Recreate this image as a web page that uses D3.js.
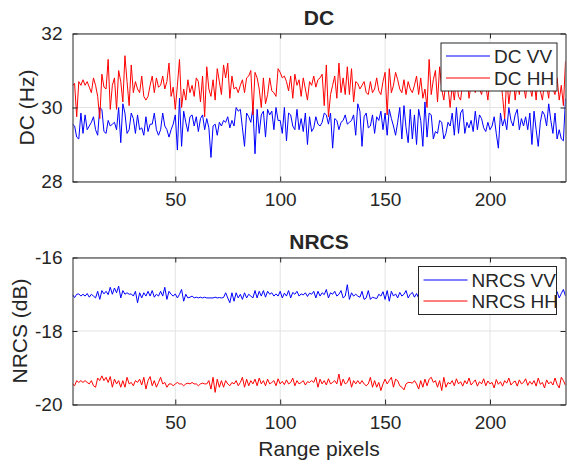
<!DOCTYPE html>
<html>
<head>
<meta charset="utf-8">
<script src="https://cdn.jsdelivr.net/npm/d3@7"></script>
<style>
  body { margin: 0; background: #fff; }
  text { font-family: "Liberation Sans", Arial, Helvetica, sans-serif; fill: #262626; }
</style>
</head>
<body>
<div id="chart"></div>
<script>
// values, range pixel 1..236

var dcVV = [
  29.55, 29.5, 29.2, 29.15, 29.85, 29.3, 29.8, 29.4, 29.5, 29.6,
  29.75, 29.4, 29.25, 30.0, 29.95, 29.35, 29.3, 29.65, 29.5, 29.55,
  29.6, 29.4, 30.0, 29.05, 30.1, 29.85, 29.3, 29.4, 29.85, 29.7,
  29.3, 29.8, 29.4, 29.45, 29.25, 29.75, 29.35, 29.55, 29.55, 29.85,
  29.4, 29.25, 29.4, 29.85, 29.5, 29.4, 29.2, 29.4, 29.55, 29.8,
  28.85, 30.25, 28.95, 29.9, 29.6, 29.35, 29.75, 29.8, 29.5,
  29.75, 29.35, 29.7, 29.8, 29.4, 29.7, 29.45, 28.65, 29.5, 29.55,
  29.25, 29.6, 29.5, 29.65, 29.6, 29.75, 29.45, 29.65, 29.5, 30.0,
  29.9, 29.95, 29.45, 28.95, 29.85, 29.75, 29.6, 30.0, 28.75, 29.95,
  29.3, 29.8, 29.9, 29.2, 29.95, 29.8, 29.9, 29.4, 30.0, 29.65,
  29.65, 29.3, 30.0, 29.1, 29.85, 29.8, 29.5, 29.4, 29.95, 29.4,
  29.7, 29.35, 29.85, 29.0, 29.75, 29.35, 29.45, 29.75,
  29.55, 29.5, 29.6, 29.85, 29.8, 29.55, 29.85, 28.9, 29.7, 29.65,
  29.4, 29.6, 29.65, 29.8, 29.55, 29.6, 29.65, 29.8, 29.25, 30.1,
  29.9, 28.95, 29.75, 29.85, 29.45, 29.5, 29.8, 29.3, 29.75, 29.65,
  29.9, 29.4, 29.85, 29.25, 29.95, 29.7, 29.5, 29.25, 29.6, 30.0,
  29.15, 30.05, 29.45, 29.05, 29.95, 29.15, 29.8, 29.0, 29.95, 29.65,
  28.95, 30.15, 29.2, 29.85, 29.8, 29.15, 29.35, 29.3,
  29.65, 29.6, 29.15, 29.3, 29.6, 29.5, 29.85, 29.25, 30.0, 29.3,
  29.85, 29.95, 29.3, 29.6, 29.45, 29.65, 29.35, 29.9, 29.4, 29.8,
  29.7, 29.45, 29.35, 29.6, 29.4, 29.5, 29.75, 29.3, 28.9, 29.85,
  29.5, 29.7, 29.4, 30.0, 29.65, 29.5, 29.8, 29.95, 29.4, 29.7,
  29.5, 29.75, 29.4, 29.85, 29.0, 29.9, 29.4, 28.95, 29.6, 29.9,
  29.8, 29.5, 30.1, 29.65, 29.3, 29.85, 29.15, 29.4, 29.15, 29.1, 30.25
];

var dcHH = [
  30.6, 30.65, 29.75, 30.7, 30.6, 30.75, 30.6, 30.7, 30.55, 30.4,
  30.8, 30.6, 30.3, 29.7, 30.9, 30.55, 30.5, 31.3, 29.95, 30.6,
  30.8, 29.95, 31.0, 30.7, 30.15, 31.4, 30.7, 30.05, 31.15, 30.4,
  30.7, 30.5, 30.4, 30.85, 30.3, 30.2, 30.3, 30.6, 30.85, 30.4,
  30.8, 30.55, 30.6, 30.85, 30.5, 30.7, 31.2, 30.3, 30.55, 29.95,
  30.6, 31.3, 30.0, 30.5, 30.2, 30.75, 30.4, 30.6, 30.3,
  30.8, 30.7, 30.15, 30.85, 29.75, 31.1, 30.5, 30.3, 30.75, 30.2,
  31.05, 30.7, 30.35, 31.15, 30.8, 31.2, 30.25, 30.85, 30.5, 30.55,
  30.4, 30.6, 30.75, 30.4, 30.8, 30.85, 31.0, 29.8, 30.95, 30.8,
  30.5, 30.0, 30.8, 30.1, 30.35, 30.8, 30.45, 30.4, 30.3, 31.05,
  30.95, 30.8, 30.85, 30.7, 30.45, 30.85, 30.25, 30.9, 30.6, 30.75,
  30.3, 30.8, 30.5, 30.2, 30.7, 30.6, 30.85, 30.55,
  30.75, 30.8, 30.9, 30.05, 31.15, 29.75, 30.35, 30.6, 30.85, 30.25,
  31.2, 30.4, 30.8, 30.35, 31.1, 30.35, 31.05, 30.15, 30.7, 30.65,
  30.5, 30.6, 30.7, 30.4, 30.35, 30.7, 30.4, 30.5, 30.8, 30.45,
  30.35, 30.7, 30.95, 29.8, 31.05, 30.4, 30.6, 30.95, 30.75, 30.5,
  30.4, 30.75, 30.35, 30.7, 30.5, 30.4, 30.6, 30.85, 30.35, 30.8,
  30.25, 30.5, 30.0, 31.3, 30.35, 30.75, 31.0, 30.15,
  31.1, 30.5, 30.2, 30.7, 30.55, 30.0, 30.6, 30.2, 30.8, 30.3,
  30.2, 30.7, 30.55, 30.9, 30.25, 30.6, 30.7, 30.4, 30.85, 30.5,
  30.35, 30.7, 30.6, 30.2, 30.8, 30.55, 30.45, 30.9, 30.6, 30.85,
  30.3, 29.7, 30.8, 30.1, 30.6, 30.9, 30.2, 30.7, 30.35, 31.0,
  30.6, 30.25, 30.85, 30.55, 30.3, 30.8, 30.2, 30.95, 30.45, 30.2,
  30.7, 30.6, 30.25, 31.0, 30.5, 30.35, 30.8, 30.2, 30.6, 30.05, 31.25
];

var nrcsVV = [
  -17.01, -17.09, -17.0, -16.99, -17.05, -17.0, -17.05, -16.98, -17.08, -17.0,
  -17.05, -17.1, -16.92, -17.14, -16.9, -16.99, -16.92, -17.01, -16.81, -17.0,
  -16.83, -16.96, -16.78, -17.1, -16.9, -17.0, -16.96, -17.0, -16.99, -17.05,
  -16.92, -17.23, -16.96, -17.1, -16.96, -17.05, -16.92, -17.05, -16.9, -17.08,
  -17.0, -17.05, -16.92, -17.05, -16.81, -17.14, -16.92, -17.0, -17.05, -16.99,
  -17.1, -17.0, -16.87, -17.19, -17.0, -17.1, -17.08, -17.05, -17.1, -17.08,
  -17.1, -17.08, -17.1, -17.08, -17.1, -17.1, -17.1, -17.1, -17.08, -17.1,
  -17.09, -17.1, -17.09, -16.96, -17.1, -17.23, -16.96, -17.19, -16.96, -17.1,
  -17.0, -17.14, -16.96, -17.1, -17.0, -17.05, -17.1, -16.9, -17.1, -16.92,
  -17.05, -16.9, -17.08, -16.92, -17.0, -16.96, -17.05, -16.99, -17.05, -16.92,
  -17.1, -16.97, -17.05, -16.9, -17.1, -16.95, -17.0, -16.92, -17.05, -16.99,
  -17.02, -16.96, -17.06, -16.97, -17.0, -16.92, -17.1, -16.92, -17.05, -16.96,
  -17.01, -16.87, -17.1, -16.96, -17.0, -16.92, -17.05, -17.0, -16.9, -17.1,
  -17.05, -16.74, -17.14, -16.96, -17.05, -17.0, -17.05, -17.08, -16.92, -17.14,
  -17.1, -16.9, -17.14, -17.08, -17.1, -17.12, -17.0, -17.05, -16.93, -17.14,
  -16.9, -17.19, -16.92, -17.05, -16.99, -17.1, -16.95, -17.05, -17.0, -16.9,
  -17.1, -17.0, -16.95, -17.08, -16.98, -17.1, -17.0, -16.9, -17.05, -17.0,
  -17.08, -16.95, -17.02, -17.1, -16.92, -17.05, -17.0, -17.1, -16.96, -17.04,
  -17.0, -16.9, -17.08, -17.0, -17.06, -16.94, -17.1, -17.0, -16.96, -17.05,
  -17.02, -16.92, -17.1, -17.0, -16.95, -17.06, -17.0, -16.9, -17.08, -17.02,
  -16.96, -17.05, -17.0, -16.92, -17.1, -17.0, -16.97, -17.05, -16.93, -17.08,
  -17.0, -16.95, -17.06, -17.02, -16.9, -17.1, -17.0, -16.96, -17.05, -16.99,
  -17.08, -16.94, -17.02, -17.1, -16.96, -17.04, -16.92, -17.06, -17.0, -16.98,
  -17.05, -16.93, -17.1, -16.98, -16.87, -17.05
];

var nrcsHH = [
  -19.44, -19.49, -19.35, -19.4, -19.35, -19.4, -19.35, -19.4, -19.44, -19.35,
  -19.49, -19.53, -19.28, -19.35, -19.22, -19.35, -19.26, -19.4, -19.24, -19.53,
  -19.31, -19.44, -19.35, -19.53, -19.35, -19.53, -19.26, -19.44, -19.4, -19.49,
  -19.35, -19.4, -19.31, -19.47, -19.26, -19.58, -19.35, -19.24, -19.49, -19.35,
  -19.53, -19.4, -19.26, -19.44, -19.4, -19.53, -19.44, -19.44, -19.49, -19.44,
  -19.4, -19.44, -19.44, -19.49, -19.44, -19.42, -19.44, -19.4, -19.44, -19.44,
  -19.49, -19.44, -19.42, -19.44, -19.44, -19.35, -19.58, -19.26, -19.67, -19.31,
  -19.53, -19.35, -19.53, -19.35, -19.44, -19.49, -19.4, -19.44, -19.35, -19.49,
  -19.4, -19.26, -19.53, -19.31, -19.49, -19.35, -19.44, -19.31, -19.49, -19.28,
  -19.44, -19.35, -19.49, -19.31, -19.44, -19.4, -19.35, -19.49, -19.3, -19.44,
  -19.37, -19.46, -19.33, -19.44, -19.4, -19.28, -19.49, -19.35, -19.44, -19.4,
  -19.35, -19.47, -19.38, -19.4, -19.35, -19.4, -19.26, -19.53, -19.31, -19.44,
  -19.35, -19.47, -19.3, -19.44, -19.4, -19.35, -19.44, -19.17, -19.49, -19.31,
  -19.44, -19.4, -19.26, -19.53, -19.35, -19.44, -19.35, -19.44, -19.35, -19.44,
  -19.49, -19.44, -19.26, -19.53, -19.35, -19.53, -19.4, -19.62, -19.44, -19.31,
  -19.44, -19.35, -19.26, -19.53, -19.31, -19.35, -19.49, -19.53, -19.6, -19.44,
  -19.4, -19.4, -19.42, -19.35, -19.44, -19.58, -19.35, -19.53, -19.31, -19.49,
  -19.31, -19.26, -19.4, -19.35, -19.53, -19.35, -19.62, -19.26, -19.53, -19.4,
  -19.44, -19.35, -19.49, -19.3, -19.44, -19.38, -19.5, -19.35, -19.44, -19.28,
  -19.47, -19.4, -19.33, -19.5, -19.38, -19.44, -19.3, -19.49, -19.36, -19.44,
  -19.4, -19.55, -19.32, -19.45, -19.38, -19.5, -19.35, -19.42, -19.28, -19.47,
  -19.4, -19.36, -19.5, -19.33, -19.44, -19.4, -19.3, -19.48, -19.37, -19.45,
  -19.35, -19.5, -19.28, -19.45, -19.4, -19.55, -19.33, -19.44, -19.38, -19.47,
  -19.28, -19.45, -19.55, -19.26, -19.35, -19.48
];

var xTicks = [50, 100, 150, 200];
var dcTicks = [28, 30, 32];
var nrcsTicks = [-20, -18, -16];
var dcNames = ["DC VV", "DC HH"];
var nrcsNames = ["NRCS VV", "NRCS HH"];

var W = 567, H = 464;
var left = 72.5, right = 565.5;
var axisCol = "#262626";
var plain = function(d) { return String(d); }; // hyphen minus like the original

var svg = d3.select("#chart").append("svg")
  .attr("width", W).attr("height", H);
svg.append("rect").attr("width", W).attr("height", H).attr("fill", "#fff");

var x = d3.scaleLinear().domain([1, dcVV.length]).range([left, right]);

function panel(p) {
  var y = d3.scaleLinear().domain(d3.extent(p.ticks)).range([p.bottom, p.top]);
  var g = svg.append("g");
  var id = "clip" + Math.round(p.top);

  g.append("clipPath").attr("id", id)
    .append("rect").attr("x", left).attr("y", p.top)
    .attr("width", right - left).attr("height", p.bottom - p.top);

  // grid
  g.selectAll(".gx").data(xTicks).enter().append("line")
    .attr("x1", d => x(d)).attr("x2", d => x(d))
    .attr("y1", p.top).attr("y2", p.bottom)
    .attr("stroke", "#e3e3e3").attr("stroke-width", 1);
  g.selectAll(".gy").data(p.ticks).enter().append("line")
    .attr("x1", left).attr("x2", right)
    .attr("y1", d => y(d)).attr("y2", d => y(d))
    .attr("stroke", "#e3e3e3").attr("stroke-width", 1);

  var line = d3.line().x((d, i) => x(i + 1)).y(d => y(d));
  var cols = ["#0000ff", "#ff0000"];
  [p.a, p.b].forEach(function(s, k) {
    g.append("path").datum(s)
      .attr("d", line)
      .attr("fill", "none")
      .attr("stroke", cols[k])
      .attr("stroke-width", 1)
      .attr("clip-path", "url(#" + id + ")");
  });

  // axes, ticks pointing inwards on all four sides
  function style(a) {
    a.selectAll("path, line").attr("stroke", axisCol);
    a.selectAll("text").style("font-size", "19px")
      .style("font-family", "'Liberation Sans', Arial, sans-serif").attr("fill", axisCol);
  }
  g.append("g").attr("transform", "translate(0," + p.bottom + ")")
    .call(d3.axisBottom(x).tickValues(xTicks).tickFormat(plain).tickSize(-5).tickSizeOuter(0).tickPadding(11))
    .call(style);
  g.append("g").attr("transform", "translate(0," + p.top + ")")
    .call(d3.axisTop(x).tickValues(xTicks).tickSize(-5).tickSizeOuter(0).tickFormat(""))
    .call(style);
  g.append("g").attr("transform", "translate(" + left + ",0)")
    .call(d3.axisLeft(y).tickValues(p.ticks).tickFormat(plain).tickSize(-5).tickSizeOuter(0).tickPadding(10))
    .call(style);
  g.append("g").attr("transform", "translate(" + right + ",0)")
    .call(d3.axisRight(y).tickValues(p.ticks).tickSize(-5).tickSizeOuter(0).tickFormat(""))
    .call(style);
  g.selectAll(".domain").attr("fill", "none");

  // title and y label
  g.append("text").attr("x", (left + right) / 2).attr("y", p.top - 9)
    .attr("text-anchor", "middle").style("font-size", "21px").style("font-weight", "bold")
    .text(p.title);
  g.append("text")
    .attr("transform", "translate(" + p.labelX + "," + (p.top + p.bottom) / 2 + ") rotate(-90)")
    .attr("text-anchor", "middle").style("font-size", "21px")
    .text(p.ylabel);

  // legend
  var L = p.legend;
  g.append("rect").attr("x", L.x).attr("y", L.y).attr("width", L.w).attr("height", L.h)
    .attr("fill", "#fff").attr("stroke", axisCol).attr("stroke-width", 1);
  p.names.forEach(function(n, k) {
    var yy = L.y + L.r0 + k * L.dr;
    g.append("line").attr("x1", L.x + 5).attr("x2", L.x + 5 + L.len)
      .attr("y1", yy).attr("y2", yy)
      .attr("stroke", cols[k]).attr("stroke-width", 1);
    g.append("text").attr("x", L.x + 9 + L.len).attr("y", yy).attr("dy", "0.35em")
      .style("font-size", "19px").text(n);
  });
}

panel({
  top: 33.5, bottom: 181.5, ticks: dcTicks, a: dcVV, b: dcHH,
  title: "DC", ylabel: "DC (Hz)", labelX: 34, names: dcNames,
  legend: { x: 441, y: 43, w: 116, h: 48, r0: 13, dr: 22, len: 44 }
});

panel({
  top: 257.5, bottom: 404.5, ticks: nrcsTicks, a: nrcsVV, b: nrcsHH,
  title: "NRCS", ylabel: "NRCS (dB)", labelX: 27, names: nrcsNames,
  legend: { x: 418.5, y: 266.5, w: 138, h: 48, r0: 13.5, dr: 21, len: 44 }
});

svg.append("text").attr("x", (left + right) / 2).attr("y", 456)
  .attr("text-anchor", "middle").style("font-size", "21px")
  .text("Range pixels");
</script>
</body>
</html>
